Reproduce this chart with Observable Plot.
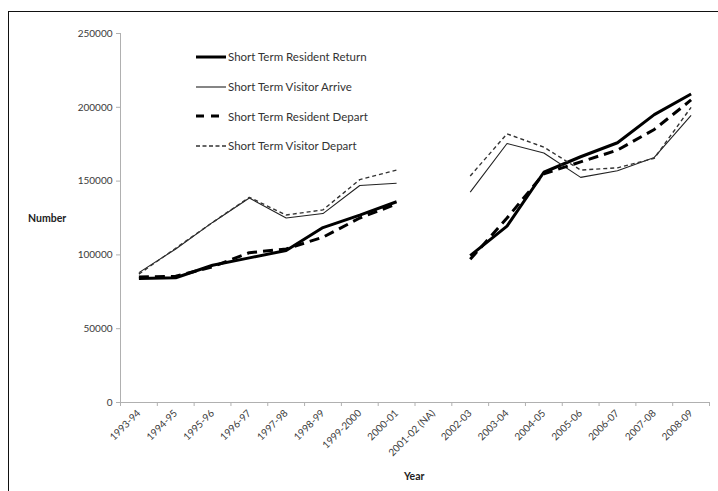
<!DOCTYPE html>
<html>
<head>
<meta charset="utf-8">
<script src="https://cdn.jsdelivr.net/npm/d3@7"></script>
<script src="https://cdn.jsdelivr.net/npm/@observablehq/plot@0.6"></script>
<style>
  html, body { margin: 0; padding: 0; background: #fff; }
  #wrap { position: relative; width: 718px; height: 491px; overflow: hidden; font-family: Lato, "Open Sans", sans-serif; }
  #frame { position: absolute; left: 8px; top: 11px; width: 760px; height: 540px; border: 1.5px solid #111; box-sizing: border-box; }
  #chart { position: absolute; left: 0; top: 0; }
  .lab { position: absolute; font-weight: bold; font-size: 10.5px; color: #222; }
  #legend { position: absolute; left: 196px; top: 42px; font-size: 11.5px; color: #333; }
  #legend .row { height: 29.7px; display: flex; align-items: center; }
  #legend svg { margin-right: 2px; }
</style>
</head>
<body>
<div id="wrap">
  <div id="frame"></div>
  <div id="chart"></div>
  <div class="lab" style="left:28px;top:212px;">Number</div>
  <div class="lab" style="left:404px;top:470px;">Year</div>
  <div id="legend"></div>
</div>
<script>
const years = ["1993-94","1994-95","1995-96","1996-97","1997-98","1998-99","1999-2000","2000-01","2001-02 (NA)","2002-03","2003-04","2004-05","2005-06","2006-07","2007-08","2008-09"];
const residentReturn = [84000, 84500, 93000, 98000, 103000, 118500, 127000, 136000, null, 99500, 119500, 156000, 166500, 176000, 195000, 209000];
const visitorArrive  = [88000, 104000, 122000, 138500, 125000, 128000, 147000, 148500, null, 142500, 175500, 169000, 152500, 157000, 166000, 194500];
const residentDepart = [85000, 85500, 92000, 101500, 104000, 112000, 125000, 134500, null, 97000, 125000, 155000, 163000, 171000, 185000, 205000];
const visitorDepart  = [87000, 104500, 122000, 139000, 127000, 130500, 151000, 157500, null, 153500, 182000, 173000, 157500, 159000, 165500, 200000];
const seriesNames = ["Short Term Resident Return","Short Term Visitor Arrive","Short Term Resident Depart","Short Term Visitor Depart"];
const yTicks = [0, 50000, 100000, 150000, 200000, 250000];

const seriesValues = [residentReturn, visitorArrive, residentDepart, visitorDepart];
const styles = [
  {stroke: "#000", strokeWidth: 3, dash: null},
  {stroke: "#222", strokeWidth: 1.1, dash: null},
  {stroke: "#000", strokeWidth: 3, dash: "10,6"},
  {stroke: "#333", strokeWidth: 1.4, dash: "4,3"}
];

function rows(vals) {
  return years.map((y, i) => ({i, v: vals[i] == null ? NaN : vals[i]}));
}

const idx = years.map((d, i) => i);
const bounds = d3.range(years.length + 1).map(i => i - 0.5);

const lineMarks = seriesValues.map((vals, k) => Plot.line(rows(vals), {
  x: "i", y: "v",
  stroke: styles[k].stroke,
  strokeWidth: styles[k].strokeWidth,
  strokeDasharray: styles[k].dash,
  strokeLinejoin: "miter",
  strokeLinecap: "butt"
}));

const chart = Plot.plot({
  width: 718,
  height: 491,
  marginLeft: 120,
  marginRight: 9,
  marginTop: 33,
  marginBottom: 89,
  style: {fontFamily: "Lato, 'Open Sans', sans-serif", fontSize: "10px", color: "#3a3a3a", background: "transparent"},
  x: {type: "linear", domain: [-0.5, years.length - 0.5]},
  y: {domain: [0, 250000]},
  marks: [
    Plot.ruleX([-0.5], {stroke: "#b0b0b0", strokeWidth: 1}),
    Plot.ruleY([0], {stroke: "#b0b0b0", strokeWidth: 1}),
    Plot.axisY({ticks: yTicks, tickFormat: d3.format("d"), tickSize: 4, tickPadding: 4, stroke: "#b0b0b0", label: null, fontSize: 10}),
    Plot.axisX({ticks: bounds, tickFormat: () => "", tickSize: 4, stroke: "#b0b0b0", label: null}),
    Plot.axisX({ticks: idx, tickFormat: i => years[i], tickSize: 0, tickPadding: 9, tickRotate: -45, label: null, fontSize: 10}),
    ...lineMarks
  ]
});
document.getElementById("chart").appendChild(chart);

const legend = document.getElementById("legend");
seriesNames.forEach((name, k) => {
  const row = document.createElement("div");
  row.className = "row";
  const s = styles[k];
  row.innerHTML = `<svg width="30" height="8"><line x1="0" y1="4" x2="30" y2="4" stroke="${s.stroke}" stroke-width="${s.strokeWidth}" ${s.dash ? `stroke-dasharray="${k===2 ? '8,7' : '4,2.5'}"` : ""}/></svg><span>${name}</span>`;
  legend.appendChild(row);
});
</script>
</body>
</html>
